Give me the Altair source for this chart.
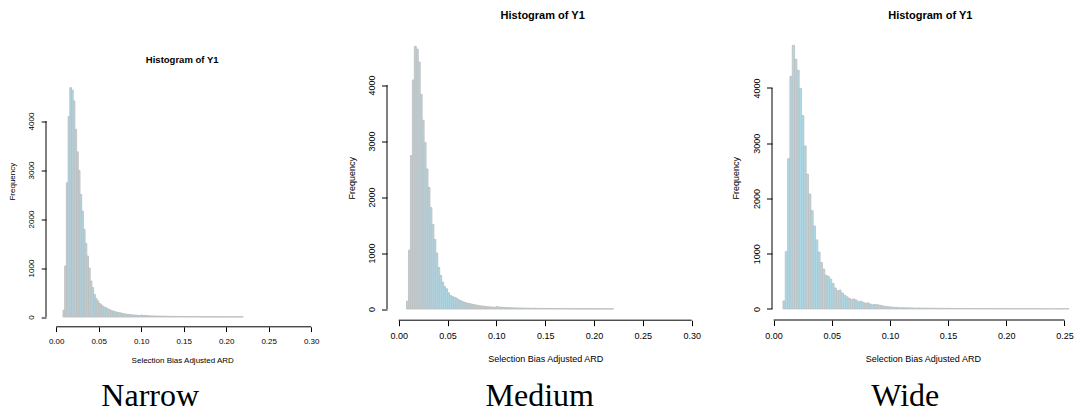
import altair as alt
import pandas as pd

# ---------------- data ----------------
BIN_START = 0.008
BIN_WIDTH = 0.002

narrow_counts = [140, 1040, 2740, 4090, 4680, 4630, 4410, 3830, 3370, 2990,
                 2500, 2160, 1790, 1500, 1245, 1000, 735, 600, 460, 380,
                 330, 280, 250, 220, 200, 185, 165, 150, 130, 120,
                 110, 100, 90, 85, 78, 70, 62, 56, 52, 48,
                 44, 42, 38, 35, 32, 30, 40, 30, 32, 26,
                 25, 23, 22, 21, 20, 19, 18, 17, 18, 16,
                 15, 16, 14, 13, 14, 12, 12, 11, 12, 10,
                 10, 9, 10, 9, 8, 9, 8, 7, 8, 7,
                 7, 6, 7, 6, 6, 5, 6, 5, 5, 6,
                 5, 4, 5, 4, 4, 5, 4, 4, 3, 4,
                 4, 3, 4, 3, 3, 4]

medium_counts = [140, 1050, 2740, 4090, 4690, 4640, 4410, 3830, 3370, 2970,
                 2500, 2170, 1810, 1510, 1240, 1000, 740, 600, 480, 400,
                 360, 290, 240, 220, 210, 195, 170, 150, 135, 120,
                 110, 100, 95, 85, 80, 70, 65, 58, 52, 50,
                 45, 40, 38, 35, 33, 30, 45, 30, 35, 28,
                 25, 24, 22, 22, 20, 19, 18, 18, 16, 17,
                 15, 14, 15, 13, 12, 13, 12, 11, 10, 11,
                 10, 9, 9, 10, 8, 8, 9, 7, 8, 7,
                 6, 7, 7, 6, 5, 6, 6, 5, 5, 4,
                 5, 5, 4, 4, 5, 4, 3, 4, 4, 3,
                 3, 4, 3, 3, 2, 3]

wide_counts = [145, 1040, 2720, 4210, 4770, 4520, 4320, 3990, 3500, 2950,
               2440, 2080, 1780, 1500, 1250, 1030, 840, 720, 610, 590,
               540, 460, 380, 330, 340, 290, 250, 220, 190, 170,
               180, 160, 130, 140, 120, 100, 110, 90, 75, 80,
               75, 70, 60, 50, 45, 40, 35, 30, 28, 25,
               22, 22, 20, 21, 18, 19, 17, 16, 17, 15,
               14, 15, 13, 14, 12, 12, 13, 11, 11, 10,
               11, 10, 9, 10, 9, 9, 8, 9, 8, 8,
               7, 8, 7, 7, 6, 7, 6, 6, 7, 6,
               5, 6, 5, 5, 6, 5, 5, 4, 5, 5,
               4, 4, 5, 4, 4, 3, 4, 4, 3, 4,
               3, 3, 4, 3, 3, 3, 2, 3, 3, 2,
               3, 2, 3]

x_ticks_long = [0.0, 0.05, 0.10, 0.15, 0.20, 0.25, 0.30]
x_ticks_wide = [0.0, 0.05, 0.10, 0.15, 0.20, 0.25]
y_ticks = [0, 1000, 2000, 3000, 4000]

captions = ["Narrow", "Medium", "Wide"]
PANEL_TITLE = "Histogram of Y1"
X_TITLE = "Selection Bias Adjusted ARD"
Y_TITLE = "Frequency"

SANS = "Liberation Sans"
SERIF = "Liberation Serif"
FILL = "#add8e6"
STROKE = "#bebebe"


def panel(counts, x_ticks, x_dom, y_dom, w, h, fs, tick, xpad, ypad,
          xtitle_y, ytitle_x, title_x, title_y, title_fs, cap_x, cap_y, caption, sw):
    lo = [BIN_START + i * BIN_WIDTH for i in range(len(counts))]
    df = pd.DataFrame({"lo": lo, "hi": [v + BIN_WIDTH for v in lo], "count": counts})
    xs = alt.Scale(domain=x_dom, nice=False, zero=False)
    ys = alt.Scale(domain=y_dom, nice=False, zero=False)
    xaxis = alt.Axis(values=x_ticks, format=".2f", domain=False, grid=False,
                     ticks=True, tickSize=tick, tickColor="black", tickWidth=1,
                     labelFont=SANS, labelFontSize=fs, labelColor="black",
                     labelPadding=xpad, labelFlush=False, labelOverlap=False,
                     title=X_TITLE, titleFont=SANS, titleFontSize=fs,
                     titleFontWeight="normal", titleColor="black",
                     titleY=xtitle_y, titleX=w / 2, titleBaseline="middle",
                     titleAlign="center")
    yaxis = alt.Axis(values=y_ticks, format="d", domain=False, grid=False,
                     ticks=True, tickSize=tick, tickColor="black", tickWidth=1,
                     labelFont=SANS, labelFontSize=fs, labelColor="black",
                     labelAngle=270, labelAlign="center", labelBaseline="bottom",
                     labelPadding=ypad, labelFlush=False, labelOverlap=False,
                     title=Y_TITLE, titleFont=SANS, titleFontSize=fs,
                     titleFontWeight="normal", titleColor="black",
                     titleAngle=270, titleX=-ytitle_x, titleY=h / 2,
                     titleAlign="center", titleBaseline="middle")
    bars = alt.Chart(df).mark_rect(fill=FILL, stroke=STROKE, strokeWidth=sw).encode(
        x=alt.X("lo:Q", scale=xs, axis=xaxis),
        x2="hi:Q",
        y=alt.Y("count:Q", scale=ys, axis=yaxis),
        y2=alt.datum(0),
    )
    xline = alt.Chart(pd.DataFrame({"a": [x_ticks[0]], "b": [x_ticks[-1]]})).mark_rule(
        color="black", strokeWidth=1).encode(
        x=alt.X("a:Q", scale=xs, axis=xaxis), x2="b:Q", y=alt.value(h))
    yline = alt.Chart(pd.DataFrame({"a": [y_ticks[0]], "b": [y_ticks[-1]]})).mark_rule(
        color="black", strokeWidth=1).encode(
        y=alt.Y("a:Q", scale=ys, axis=yaxis), y2="b:Q", x=alt.value(0))
    ttl = alt.Chart(pd.DataFrame({"t": [PANEL_TITLE]})).mark_text(
        font=SANS, fontSize=title_fs, fontWeight="bold", color="black",
        align="center", baseline="middle").encode(
        text="t:N", x=alt.value(title_x), y=alt.value(title_y))
    cap = alt.Chart(pd.DataFrame({"t": [caption]})).mark_text(
        font=SERIF, fontSize=32, color="black", align="center",
        baseline="alphabetic").encode(
        text="t:N", x=alt.value(cap_x), y=alt.value(cap_y))
    return alt.layer(bars, xline, yline, ttl, cap).properties(width=w, height=h)


p1 = panel(narrow_counts, x_ticks_long, [-0.012, 0.3086], [-200, 5745], 272.5, 291.3,
           8, 4.8, 5.5, 5.4, 33.7, 34, 136.2, 24.5, 9.5, 104.2, 370.5, captions[0], 0.9)
p2 = panel(medium_counts, x_ticks_long, [-0.012, 0.312], [-200, 4884], 316.4, 284.7,
           9, 5.5, 6, 5, 38.5, 36, 155.7, -19.5, 11, 152.7, 370.5, captions[1], 0.9)
p3 = panel(wide_counts, x_ticks_wide, [-0.0014, 0.258], [-200, 4950], 301.7, 284.5,
           9, 5.5, 6, 5, 38.5, 37, 158.3, -19.5, 11, 133.3, 370.5, captions[2], 0.8)

chart = alt.hconcat(p1, p2, p3, spacing=68, bounds="flush").properties(
    padding={"left": 0, "top": 1.5, "right": 0, "bottom": 0},
    background="white",
).configure_view(stroke=None)

chart.save("out.html", embed_options={"renderer": "svg", "actions": False})
